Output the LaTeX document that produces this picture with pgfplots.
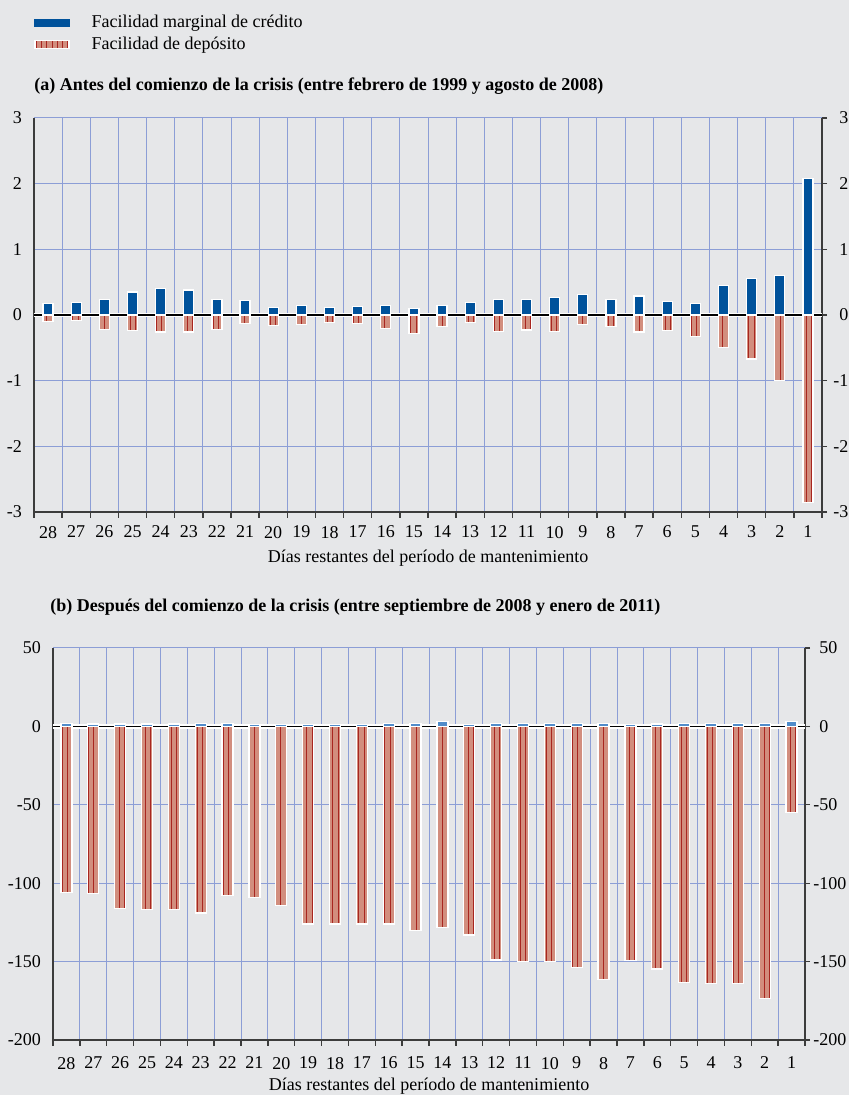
\documentclass[border=0pt]{standalone}
\usepackage{pgfplots}
\pgfplotsset{compat=1.18}
\usepackage{pgfplotstable}
\usepackage{fontspec}
\setmainfont{Liberation Serif}
\usetikzlibrary{patterns.meta}
\definecolor{bg}{RGB}{230,231,233}
\definecolor{gridc}{RGB}{140,158,214}
\definecolor{bluebar}{RGB}{0,82,155}
\definecolor{bluebarb}{RGB}{80,140,202}
\definecolor{redfill}{RGB}{210,142,126}
\definecolor{redline}{RGB}{168,38,32}
\definecolor{axc}{RGB}{60,60,60}

\pgfplotstableread{
x  ablue ared  bblue bred
1  0.18 -0.10  2.0 -106
2  0.19 -0.09  1.5 -106.5
3  0.23 -0.22  1.5 -116
4  0.35 -0.24  1.5 -117
5  0.40 -0.26  1.5 -117
6  0.38 -0.26  2.0 -119
7  0.24 -0.22  2.0 -108
8  0.22 -0.13  1.0 -109
9  0.12 -0.16  1.0 -114
10 0.15 -0.14  1.0 -126
11 0.11 -0.12  1.0 -126
12 0.13 -0.13  1.0 -126
13 0.15 -0.21  2.0 -126
14 0.10 -0.28  2.0 -130
15 0.15 -0.18  3.0 -128
16 0.19 -0.12  1.0 -133
17 0.23 -0.25  2.0 -149
18 0.23 -0.23  2.0 -150
19 0.27 -0.25  2.0 -150
20 0.31 -0.15  2.0 -154
21 0.24 -0.18  2.0 -161.5
22 0.29 -0.26  1.0 -149.3
23 0.21 -0.24  1.5 -154.7
24 0.17 -0.33  2.0 -163.4
25 0.45 -0.50  2.0 -164
26 0.56 -0.67  2.0 -164
27 0.60 -1.00  2.0 -173.4
28 2.08 -2.86  3.0 -55
}\data

\newcommand{\fs}{\fontsize{9}{10.8}\selectfont}

\pgfplotsset{
  panel/.style={
    scale only axis,
    xmin=0.5, xmax=28.5,
    axis x line*=bottom, axis y line*=box,
    x axis line style={axc, line width=0.7pt},
    y axis line style={axc, line width=0.7pt},
    xtick={1,...,28},
    xticklabels={28,27,26,25,24,23,22,21,20,19,18,17,16,15,14,13,12,11,10,9,8,7,6,5,4,3,2,1},
    minor xtick={0.5,1.5,...,28.5},
    xminorgrids=true, xmajorgrids=false, ymajorgrids=true,
    grid style={gridc, line width=0.5pt},
    minor grid style={gridc, line width=0.5pt},
    major tick length=0pt, minor tick length=3pt, tick align=outside,
    minor x tick style={axc, line width=0.7pt},
    tick label style={font=\fs},
    /pgf/number format/assume math mode=true,
    xlabel={Días restantes del período de mantenimiento},
    label style={font=\fs},
    yticklabel style={xshift=-2.5pt},
    extra y ticks={0}, extra y tick labels={},
    extra y tick style={ymajorgrids=true, major grid style={black, line width=0.7pt, preaction={draw=white, line width=2.4pt}}},
  },
  rightlab/.style={
    scale only axis,
    xmin=0.5, xmax=28.5,
    axis line style={draw=none},
    xtick=\empty,
    ytick pos=right, yticklabel pos=right,
    tick align=outside, major tick length=2.5pt,
    ytick style={axc, line width=0.6pt},
    tick label style={font=\fs},
    yticklabel style={anchor=west, inner sep=0pt},
  },
  bluestyle/.style={ybar, bar width=5pt, bar shift=0pt, fill=#1, draw=white, line width=0.6pt},
  redstyle/.style={ybar, bar width=5pt, bar shift=0pt, fill=redfill, draw=white, line width=0.6pt,
    postaction={pattern={Lines[angle=90,distance=2.6pt,line width=0.5pt]}, pattern color=redline}},
}

\begin{document}
\begin{tikzpicture}
\fill[bg] (0,0) rectangle (424.5pt,547.5pt);

% Panel (a)
\begin{axis}[panel, at={(17pt,291.5pt)}, anchor=south west,
  width=394pt, height=197pt, ymin=-3, ymax=3, ytick={-3,...,3},
  xticklabel style={yshift=-3.5pt},
  xlabel style={yshift=1pt},
  legend style={at={(0,1.272)}, anchor=north west, draw=none, fill=none,
    inner sep=0pt, font=\fs, row sep=-1pt, cells={anchor=west}},
  legend cell align=left]
\addplot[bluestyle=bluebar,
  legend image code/.code={\fill[bluebar] (0pt,-1.6pt) rectangle (17pt,1.6pt); \path (0pt,-3pt) (26pt,3pt);}]
  table[x=x, y=ablue]{\data};
\addlegendentry{Facilidad marginal de crédito}
\addplot[redstyle,
  legend image code/.code={\fill[redfill] (0pt,-2pt) rectangle (17pt,2pt);
     \path[pattern={Lines[angle=90,distance=2.6pt,line width=0.5pt]}, pattern color=redline] (0pt,-2pt) rectangle (17pt,2pt);
     \path (0pt,-3pt) (26pt,3pt);}]
  table[x=x, y=ared]{\data};
\addlegendentry{Facilidad de depósito}
\end{axis}
\begin{axis}[rightlab, at={(17pt,291.5pt)}, anchor=south west,
  width=394pt, height=197pt, ymin=-3, ymax=3, ytick={-3,...,3},
  yticklabels={\llap{-}3,\llap{-}2,\llap{-}1,0,1,2,3},
  yticklabel style={xshift=6pt}]
\end{axis}

% Panel (b)
\begin{axis}[panel, at={(26.5pt,27.5pt)}, anchor=south west,
  width=376pt, height=196pt, ymin=-200, ymax=50, ytick={-200,-150,...,50},
  xticklabel style={yshift=-5pt},
  xlabel style={yshift=2.5pt}]
\addplot[bluestyle=bluebarb, bar width=5.5pt] table[x=x, y=bblue]{\data};
\addplot[redstyle, bar width=5.5pt] table[x=x, y=bred]{\data};
\end{axis}
\begin{axis}[rightlab, at={(26.5pt,27.5pt)}, anchor=south west,
  width=376pt, height=196pt, ymin=-200, ymax=50, ytick={-200,-150,...,50},
  yticklabels={\llap{-}200,\llap{-}150,\llap{-}100,\llap{-}50,0,50},
  yticklabel style={xshift=4.5pt}]
\end{axis}

% Titles
\node[anchor=west, inner sep=0pt, font=\fontsize{9}{10.8}\selectfont\bfseries] at (17pt,504.5pt)
  {(a) Antes del comienzo de la crisis (entre febrero de 1999 y agosto de 2008)};
\node[anchor=west, inner sep=0pt, font=\fontsize{9}{10.8}\selectfont\bfseries] at (25pt,244pt)
  {(b) Después del comienzo de la crisis (entre septiembre de 2008 y enero de 2011)};

\pgfresetboundingbox
\useasboundingbox (0,0) rectangle (424.5pt,547.5pt);
\end{tikzpicture}
\end{document}
